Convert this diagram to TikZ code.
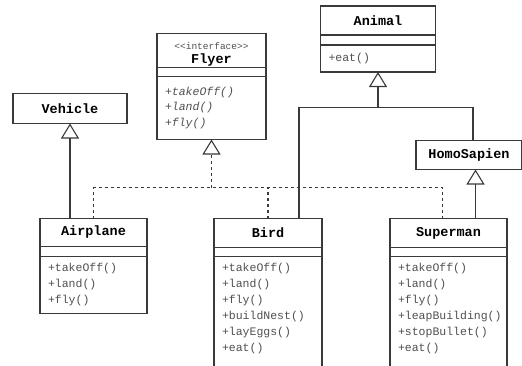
\documentclass[tikz,border=0pt]{standalone}
\usepackage{fontspec}
\setmonofont{Liberation Mono}
\usetikzlibrary{positioning,arrows.meta}
\definecolor{umlline}{HTML}{3A3A3A}
\definecolor{umltext}{HTML}{505050}
\tikzset{
  umlbox/.style={draw=umlline,line width=1.1pt,fill=white,outer sep=0pt,inner sep=0pt},
  classname/.style={umlbox,anchor=north,minimum height=29pt,font=\ttfamily\bfseries\fontsize{13.5}{16}\selectfont},
  attrs/.style={umlbox,minimum height=10pt},
  ops/.style={umlbox,align=left,inner xsep=8pt,inner ysep=7pt,text=umltext,font=\ttfamily\fontsize{11.5}{16}\selectfont},
  inherit/.style={draw=umlline,line width=1.1pt,-{Triangle[open,width=18pt,length=15pt]}},
  realize/.style={inherit,dash pattern=on 3pt off 3pt},
  dotted link/.style={draw=umlline,line width=1.1pt,dash pattern=on 3pt off 3pt},
}
\begin{document}
\begin{tikzpicture}[x=1pt,y=-1pt]
\useasboundingbox (0,0) rectangle (522,365);
\clip (0,0) rectangle (522,365);
% parents
\node[classname,minimum width=115pt] (animal) at (378,6) {Animal};
\node[attrs,minimum width=115pt,below=0pt of animal] (animal attrs) {};
\node[ops,text width=99pt,minimum height=27pt,below=0pt of animal attrs] (animal ops) {+eat()};
\node[classname,minimum width=109pt,minimum height=34pt,align=center,inner ysep=0pt] (flyer) at (211.5,33.5)
  {{\mdseries\color{umltext}\fontsize{9.5}{10}\selectfont\rule{0pt}{15pt}\textless\textless interface\textgreater\textgreater}\\[-1.5pt]Flyer};
\node[attrs,minimum width=109pt,minimum height=9pt,below=0pt of flyer] (flyer attrs) {};
\node[ops,text width=93pt,minimum height=63pt,font=\ttfamily\itshape\fontsize{11.5}{15.5}\selectfont,below=0pt of flyer attrs] (flyer ops)
  {+takeOff()\\+land()\\+fly()\\[3pt]};
\node[classname,minimum width=114pt,minimum height=30pt] (vehicle) at (70,93.5) {Vehicle};
\node[classname,minimum width=106pt] (homo) at (469,140.5) {HomoSapien};
% children
\node[classname,minimum width=107pt,minimum height=28pt] (airplane) at (93.5,218.5) {Airplane};
\node[attrs,minimum width=107pt,below=0pt of airplane] (airplane attrs) {};
\node[ops,text width=91pt,below=0pt of airplane attrs] (airplane ops)
  {+takeOff()\\+land()\\+fly()};
\node[classname,minimum width=108pt] (bird) at (268,218.5) {Bird};
\node[attrs,minimum width=108pt,minimum height=9pt,below=0pt of bird] (bird attrs) {};
\node[ops,text width=92pt,below=0pt of bird attrs] (bird ops)
  {+takeOff()\\+land()\\+fly()\\+buildNest()\\+layEggs()\\+eat()\\\strut};
\node[classname,minimum width=117pt] (superman) at (448.5,218.5) {Superman};
\node[attrs,minimum width=117pt,minimum height=9pt,below=0pt of superman] (superman attrs) {};
\node[ops,text width=101pt,below=0pt of superman attrs] (superman ops)
  {+takeOff()\\+land()\\+fly()\\+leapBuilding()\\+stopBullet()\\+eat()\\\strut};
% attach points
\coordinate (bus) at (flyer ops.south |- 0,187.5);
\coordinate (join) at (animal ops.south |- 0,107.5);
\coordinate (bird animal) at ([xshift=31pt]bird.north);
\coordinate (super flyer) at ([xshift=-6pt]superman.north);
\coordinate (super homo) at ([xshift=27pt]superman.north);
\coordinate (homo animal) at ([xshift=4pt]homo.north);
% generalization
\draw[inherit] (vehicle.south |- airplane.north) -- (vehicle.south);
\draw[inherit] (bird animal) |- (join) -- (animal ops.south);
\draw[draw=umlline,line width=1.1pt] (homo animal) |- (join);
\draw[inherit] (super homo) -- (super homo |- homo.south);
% realization
\draw[dotted link] (airplane.north) |- (bus) -| (super flyer);
\draw[dotted link] (bird.north) -- (bird.north |- bus);
\draw[realize] (bus) -- (flyer ops.south);
\end{tikzpicture}
\end{document}
